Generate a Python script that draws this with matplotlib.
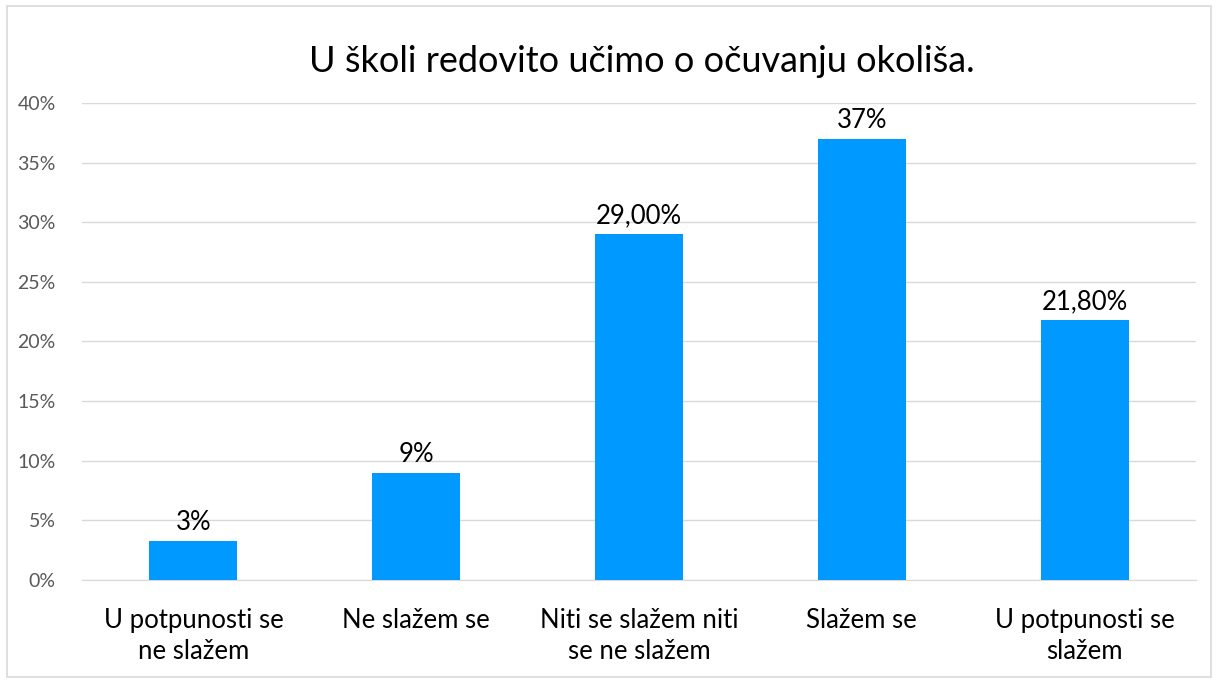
import matplotlib.pyplot as plt
from matplotlib.patches import Rectangle
from matplotlib.ticker import FuncFormatter

plt.rcParams['font.family'] = ['Lato', 'DejaVu Sans']

categories = ['U potpunosti se\nne slažem', 'Ne slažem se', 'Niti se slažem niti\nse ne slažem',
              'Slažem se', 'U potpunosti se\nslažem']
values = [3.3, 9.0, 29.0, 37.0, 21.8]
value_labels = ['3%', '9%', '29,00%', '37%', '21,80%']
title = 'U školi redovito učimo o očuvanju okoliša.'

fig = plt.figure(figsize=(12.18, 6.81), dpi=100)
fig.patches.append(Rectangle((0.006, 0.006), 0.988, 0.985, transform=fig.transFigure,
                             fill=False, edgecolor='#D9D9D9', linewidth=1.2))
ax = fig.add_axes([0.0673, 0.1483, 0.9147, 0.7005])

x = range(len(categories))
ax.bar(x, values, width=0.395, color='#0099FF', zorder=3)
for xi, v, lab in zip(x, values, value_labels):
    ax.text(xi, v + 0.45, lab, ha='center', va='bottom', fontsize=18.5, color='#000000')

ax.set_xlim(-0.5, 4.5)
ax.set_ylim(0, 40)
ax.set_yticks(range(0, 41, 5))
ax.yaxis.set_major_formatter(FuncFormatter(lambda v, p: f'{int(v)}%'))
ax.grid(axis='y', color='#D9D9D9', linewidth=1, zorder=0)
for s in ['top', 'right', 'left']:
    ax.spines[s].set_visible(False)
ax.spines['bottom'].set_color('#D9D9D9')
ax.tick_params(axis='y', length=0, labelsize=14, labelcolor='#595959', pad=19)
ax.tick_params(axis='x', length=0, labelsize=18.5, labelcolor='#000000', pad=20)
ax.set_xticks(list(x))
ax.set_xticklabels(categories, linespacing=1.3)

fig.text(0.527, 0.909, title, ha='center', va='center', fontsize=26, color='#000000')

fig.savefig('out.png', dpi=100)
